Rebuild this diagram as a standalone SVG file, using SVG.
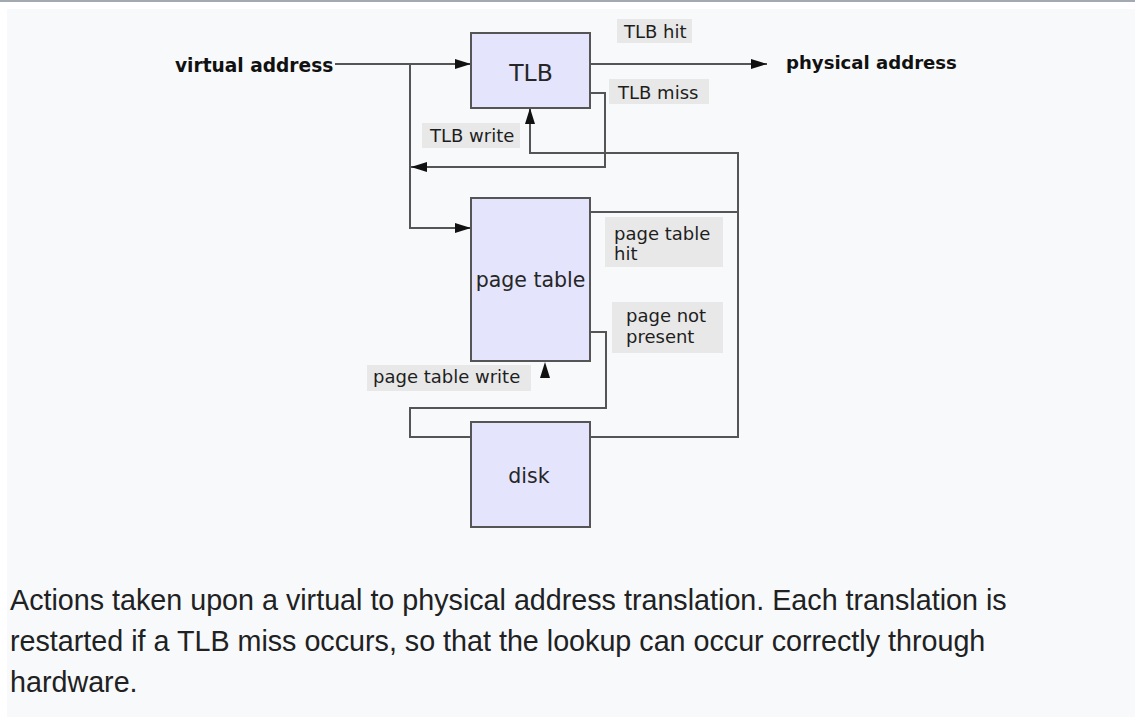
<svg xmlns="http://www.w3.org/2000/svg" width="1135" height="721" viewBox="0 0 1135 721">
  <style>
    .node { fill: #e4e4fc; stroke: #555; stroke-width: 2; }
    .wire { fill: none; stroke: #555; stroke-width: 2; }
    .tag { fill: #e8e8e8; }
    .lbl { font-family: "DejaVu Sans", sans-serif; font-size: 18px; fill: #1e1e1e; }
    .io { font-family: "DejaVu Sans", sans-serif; font-weight: bold; fill: #111; }
    .name { font-family: "DejaVu Sans", sans-serif; fill: #262626; text-anchor: middle; }
    .cap { font-family: "Liberation Sans", Arial, sans-serif; font-size: 28.7px; fill: #202122; }
  </style>
  <defs>
    <marker id="arrow" viewBox="0 0 16 10" refX="16" refY="5" markerWidth="16" markerHeight="10" markerUnits="userSpaceOnUse" orient="auto">
      <path d="M0,0 L16,5 L0,10 Z" fill="#111"/>
    </marker>
  </defs>

  <!-- page frame -->
  <rect x="0" y="0" width="1135" height="721" fill="#ffffff"/>
  <rect x="0" y="0" width="1135" height="2" fill="#a2a9b1"/>
  <rect x="7" y="9" width="1128" height="708" fill="#f8f9fa"/>

  <!-- connectors -->
  <g id="connectors">
    <!-- virtual address into TLB -->
    <path class="wire" d="M335,64 H471" marker-end="url(#arrow)"/>
    <!-- virtual address into page table -->
    <path class="wire" d="M410,64 V228 H471" marker-end="url(#arrow)"/>
    <!-- TLB hit -->
    <path class="wire" d="M590,64 H767" marker-end="url(#arrow)"/>
    <!-- TLB miss, restart -->
    <path class="wire" d="M590,93 H605 V167 H411" marker-end="url(#arrow)"/>
    <!-- page table hit / disk back to TLB write -->
    <path class="wire" d="M590,437 H738 V153 H530 V108" marker-end="url(#arrow)"/>
    <path class="wire" d="M590,212 H738"/>
    <!-- page not present to disk -->
    <path class="wire" d="M590,332 H606 V408 H410 V437 H471"/>
    <!-- page table write -->
    <path d="M545,362 L550,378 L540,378 Z" fill="#111"/>
  </g>

  <!-- edge labels -->
  <g id="label-tlb-hit">
    <rect class="tag" x="617" y="19" width="75" height="24"/>
    <text class="lbl" x="624" y="38">TLB hit</text>
  </g>
  <g id="label-tlb-miss">
    <rect class="tag" x="609" y="79" width="100" height="25"/>
    <text class="lbl" x="618" y="99">TLB miss</text>
  </g>
  <g id="label-tlb-write">
    <rect class="tag" x="422" y="123" width="98" height="25"/>
    <text class="lbl" x="430" y="142">TLB write</text>
  </g>
  <g id="label-pt-hit">
    <rect class="tag" x="605" y="217" width="118" height="50"/>
    <text class="lbl" x="614" y="240">page table</text>
    <text class="lbl" x="614" y="260">hit</text>
  </g>
  <g id="label-not-present">
    <rect class="tag" x="612" y="302" width="111" height="51"/>
    <text class="lbl" x="626" y="322">page not</text>
    <text class="lbl" x="626" y="343">present</text>
  </g>
  <g id="label-pt-write">
    <rect class="tag" x="367" y="365" width="164" height="26"/>
    <text class="lbl" x="373" y="383">page table write</text>
  </g>

  <!-- endpoints -->
  <g id="virtual-address">
    <text class="io" x="175" y="72" font-size="18.6">virtual address</text>
  </g>
  <g id="physical-address">
    <text class="io" x="786" y="69" font-size="18.1">physical address</text>
  </g>

  <!-- nodes -->
  <g id="tlb">
    <rect class="node" x="471" y="33" width="119" height="75"/>
    <text class="name" x="531" y="81" font-size="23.5">TLB</text>
  </g>
  <g id="page-table">
    <rect class="node" x="471" y="198" width="119" height="163"/>
    <text class="name" x="530.5" y="287" font-size="20.5">page table</text>
  </g>
  <g id="disk">
    <rect class="node" x="471" y="422" width="119" height="105"/>
    <text class="name" x="529" y="483" font-size="20.5">disk</text>
  </g>

  <!-- caption -->
  <g id="caption">
    <text class="cap" x="10" y="610">Actions taken upon a virtual to physical address translation. Each translation is</text>
    <text class="cap" x="10" y="651">restarted if a TLB miss occurs, so that the lookup can occur correctly through</text>
    <text class="cap" x="10" y="692">hardware.</text>
  </g>
</svg>
